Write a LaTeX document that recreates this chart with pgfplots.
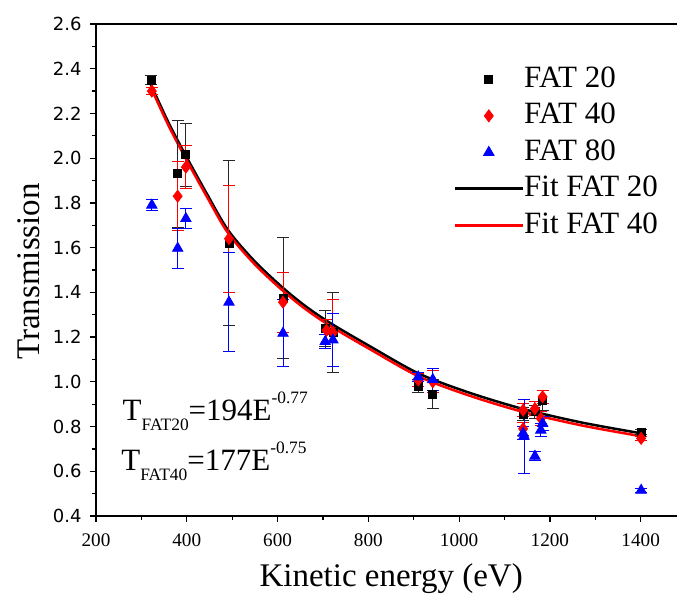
\documentclass[border=0pt]{standalone}
\usepackage{fontspec}
\setmainfont{Liberation Serif}
\newfontfamily\dejavu{DejaVu Sans}
\usepackage{pgfplots}
\pgfplotsset{compat=1.18}
\usepackage{pgfplotstable}

\pgfplotsset{
  markleg/.style={legend image code/.code={\draw[mark repeat=2,mark phase=2,##1] plot coordinates {(0pt,0pt)(17pt,0pt)(34pt,0pt)};}},
  lineleg/.style={legend image code/.code={\draw[##1] (0pt,0pt) -- (34pt,0pt);}},
}

\pgfplotstableread{
E T err
321 2.35 0.02
380 1.93 0.24
398 2.015 0.14
493 1.62 0.37
612 1.375 0.27
705 1.24 0.08
722 1.22 0.18
910 0.98 0.03
942 0.945 0.065
1141 0.855 0.03
1167 0.866 0.03
1184 0.918 0.045
1401 0.776 0.01
}\fatA

\pgfplotstableread{
E T err
323 2.30 0.015
380 1.83 0.155
398 1.96 0.095
493 1.64 0.24
612 1.356 0.135
708 1.23 0.05
722 1.22 0.15
910 1.008 0.03
942 1.00 0.05
1141 0.873 0.03
1141 0.79 0.03
1167 0.88 0.03
1184 0.933 0.03
1180 0.836 0.03
1401 0.747 0.01
}\fatB

\pgfplotstableread{
E T err
323 1.79 0.025
380 1.597 0.09
398 1.73 0.045
493 1.356 0.22
612 1.217 0.15
705 1.18 0.03
722 1.187 0.12
910 1.022 0.02
942 1.01 0.05
1141 0.77 0.03
1143 0.757 0.165
1167 0.667 0.02
1184 0.814 0.03
1180 0.784 0.03
1401 0.515 0.01
}\fatC

\pgfplotstableread{
E T
320 2.333
360 2.158
400 2.003
445 1.838
491 1.678
550 1.538
613 1.418
665 1.333
720 1.258
800 1.163
910 1.038
1020 0.953
1140 0.879
1270 0.818
1400 0.770
}\fitA

\pgfplotstableread{
E T
320 2.320
360 2.145
400 1.990
445 1.825
491 1.665
550 1.525
613 1.405
665 1.320
720 1.245
800 1.150
910 1.025
1020 0.940
1140 0.866
1270 0.805
1400 0.757
}\fitB

\begin{document}
\begin{tikzpicture}
\path[use as bounding box] (-48pt,-41.5pt) rectangle (290.5pt,258pt);
\begin{axis}[
  scale only axis, width=290.5pt, height=246pt,
  xmin=200, xmax=1480, ymin=0.4, ymax=2.6,
  axis x line*=box, axis y line*=left,
  xtick={200,400,600,800,1000,1200,1400},
  ytick={0.4,0.6,0.8,1.0,1.2,1.4,1.6,1.8,2.0,2.2,2.4,2.6},
  xtick pos=bottom, ytick pos=left,
  minor x tick num=1, minor y tick num=1,
  tick align=outside, major tick length=3pt, minor tick length=2pt,
  tick style={black, line width=0.6pt},
  axis line style={black, line width=0.9pt},
  /pgf/number format/assume math mode=true,
  yticklabel style={font=\dejavu\fontsize{9}{9}\selectfont, xshift=-0.7pt, /pgf/number format/.cd, fixed, fixed zerofill, precision=1},
  xticklabel style={font=\fontsize{9.6}{9.6}\selectfont, yshift=-2.5pt, /pgf/number format/.cd, 1000 sep={}},
  xlabel={Kinetic energy (eV)}, ylabel={Transmission},
  label style={font=\fontsize{16.5}{16.5}\selectfont},
  xlabel style={at={(axis description cs:0.508,0)}, anchor=base, yshift=-35.5pt},
  ylabel style={at={(axis description cs:-0.1153,0.497)}, anchor=center},
  legend style={draw=none, fill=none, at={(axis description cs:0.6145,0.9167)}, anchor=north west,
    inner sep=0pt, row sep=4.25pt, font=\fontsize{15.5}{15.5}\selectfont,
    nodes={inner sep=0pt, text height=11pt, text depth=3pt}},
  legend cell align=left,
  /tikz/every even column/.append style={column sep=3pt},
  clip=false,
]
% fits drawn first (under markers)
\addplot[black, line width=1.25pt, smooth, forget plot] table[x=E,y=T] {\fitA};
\addplot[red, line width=1.25pt, smooth, forget plot] table[x=E,y=T] {\fitB};

\addplot[only marks, black, mark=square*, mark size=2pt, markleg,
  error bars/.cd, y dir=both, y explicit,
  error bar style={black!85, line width=0.5pt},
  error mark options={rotate=90, black!85, mark size=3pt, line width=0.5pt}]
  table[x=E, y=T, y error=err] {\fatA};
\addlegendentry{FAT 20}

\addplot[only marks, red, mark=diamond*, mark size=3pt, markleg,
  error bars/.cd, y dir=both, y explicit,
  error bar style={red, line width=0.5pt},
  error mark options={rotate=90, red, mark size=3pt, line width=0.5pt}]
  table[x=E, y=T, y error=err] {\fatB};
\addlegendentry{FAT 40}

\addplot[only marks, blue, mark=triangle*, mark size=3pt, markleg,
  error bars/.cd, y dir=both, y explicit,
  error bar style={blue, line width=0.5pt},
  error mark options={rotate=90, blue, mark size=3pt, line width=0.5pt}]
  table[x=E, y=T, y error=err] {\fatC};
\addlegendentry{FAT 80}

\addlegendimage{black, line width=1.4pt, lineleg}
\addlegendentry{Fit FAT 20}
\addlegendimage{red, line width=1.3pt, lineleg}
\addlegendentry{Fit FAT 40}

\node[anchor=base west, font=\fontsize{15.5}{15.5}\selectfont, inner sep=0pt] at (axis cs:258,0.829)
  {T\raisebox{-5.3pt}{\fontsize{8.7}{8.7}\selectfont FAT20}=194E\raisebox{8.2pt}{\fontsize{8.7}{8.7}\selectfont -0.77}};
\node[anchor=base west, font=\fontsize{15.5}{15.5}\selectfont, inner sep=0pt] at (axis cs:255,0.604)
  {T\raisebox{-5.3pt}{\fontsize{8.7}{8.7}\selectfont FAT40}=177E\raisebox{8.2pt}{\fontsize{8.7}{8.7}\selectfont -0.75}};
\end{axis}
\end{tikzpicture}
\end{document}
